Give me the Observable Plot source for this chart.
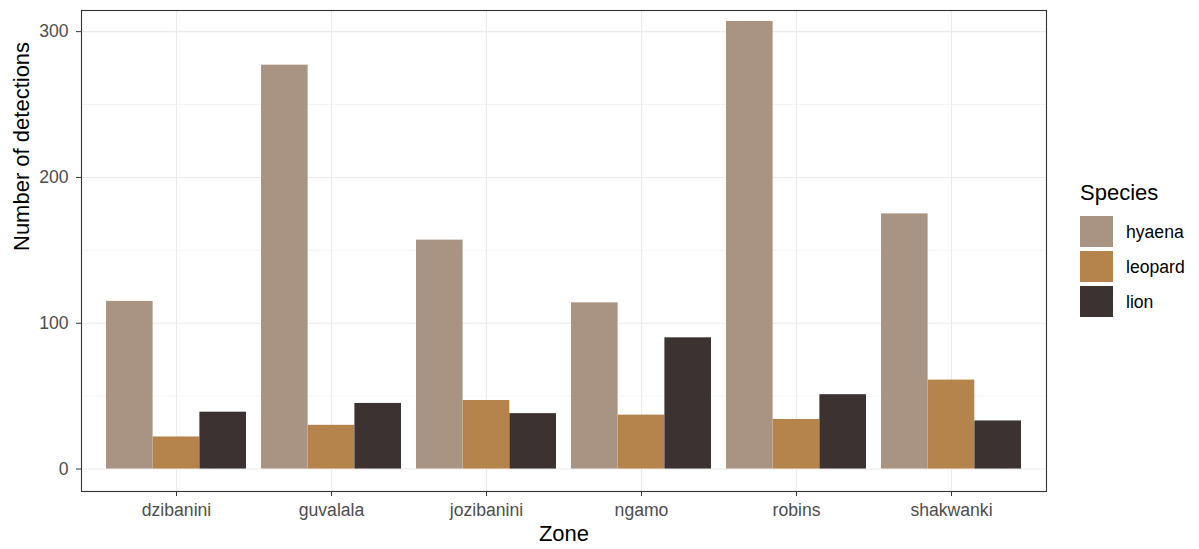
<!DOCTYPE html>
<html>
<head>
<meta charset="utf-8">
<script src="https://cdn.jsdelivr.net/npm/d3@7"></script>
<script src="https://cdn.jsdelivr.net/npm/@observablehq/plot@0.6"></script>
<style>
  body { margin: 0; background: #fff; font-family: "Liberation Sans", Arial, sans-serif; }
  #wrap { position: relative; width: 1199px; height: 549px; }
  #legend { position: absolute; left: 1080px; top: 182px; color: #000; }
  #legend .title { font-size: 22px; line-height: 22px; height: 22px; margin-bottom: 9.7px; }
  #legend .row { display: flex; align-items: center; height: 35px; }
  #legend .sw { width: 33px; height: 31px; }
  #legend .lab { margin-left: 13px; font-size: 17.6px; padding-top: 3px; }
</style>
</head>
<body>
<div id="wrap"></div>
<script>
// ---- data ----
const zones = ["dzibanini", "guvalala", "jozibanini", "ngamo", "robins", "shakwanki"];
const species = ["hyaena", "leopard", "lion"];
const hyaena = [115, 277, 157, 114, 307, 175];
const leopard = [22, 30, 47, 37, 34, 61];
const lion = [39, 45, 38, 90, 51, 33];
const speciesColors = ["#a99483", "#b5844c", "#3b3231"];
const yTicks = [0, 100, 200, 300];
const yMinorTicks = [50, 150, 250];

const series = {hyaena, leopard, lion};
const rows = [];
species.forEach(s => zones.forEach((z, i) => rows.push({zone: z, species: s, count: series[s][i]})));

// ---- layout ----
const W = 1199, H = 549;
const ML = 81, MR = 153, MT = 10, MB = 58;
const padIn = 0.1, padOut = 0.15;
const step = (W - ML - MR) / (zones.length - padIn + 2 * padOut);
const bandW = step * (1 - padIn);
const third = bandW / species.length;

const barMarks = species.map((s, k) =>
  Plot.barY(rows.filter(d => d.species === s), {
    x: "zone", y: "count", fill: "species",
    insetLeft: k * third, insetRight: (species.length - 1 - k) * third
  })
);

const chart = Plot.plot({
  width: W, height: H,
  marginLeft: ML, marginRight: MR, marginTop: MT, marginBottom: MB,
  style: {fontFamily: "'Liberation Sans', Arial, sans-serif", background: "#fff"},
  x: {domain: zones, paddingInner: padIn, paddingOuter: padOut, align: 0.5},
  y: {domain: [-15.4, 314.5]},
  color: {domain: species, range: speciesColors},
  marks: [
    Plot.gridY(yMinorTicks, {stroke: "#ebebeb", strokeOpacity: 1, strokeWidth: 0.6}),
    Plot.gridY(yTicks, {stroke: "#ebebeb", strokeOpacity: 1, strokeWidth: 1.1}),
    Plot.gridX({stroke: "#ebebeb", strokeOpacity: 1, strokeWidth: 1.1}),
    ...barMarks,
    Plot.frame({stroke: "#333", strokeWidth: 1.1}),
    Plot.axisY(yTicks, {tickSize: 5, tickPadding: 8, fontSize: 17.6, color: "#4d4d4d", stroke: "#333", label: null}),
    Plot.axisX({tickSize: 5, tickPadding: 7, fontSize: 17.6, color: "#4d4d4d", stroke: "#333", label: null}),
    Plot.text(["Zone"], {frameAnchor: "bottom", dy: 49, fontSize: 22, fill: "#000"}),
    Plot.text(["Number of detections"], {frameAnchor: "left", rotate: -90, dx: -60, fontSize: 22, fill: "#000"})
  ]
});

const wrap = document.getElementById("wrap");
wrap.appendChild(chart);

// legend
const leg = document.createElement("div");
leg.id = "legend";
const t = document.createElement("div");
t.className = "title";
t.textContent = "Species";
leg.appendChild(t);
species.forEach((s, i) => {
  const r = document.createElement("div");
  r.className = "row";
  const sw = document.createElement("div");
  sw.className = "sw";
  sw.style.background = speciesColors[i];
  const lab = document.createElement("div");
  lab.className = "lab";
  lab.textContent = s;
  r.appendChild(sw); r.appendChild(lab);
  leg.appendChild(r);
});
wrap.appendChild(leg);
</script>
</body>
</html>
